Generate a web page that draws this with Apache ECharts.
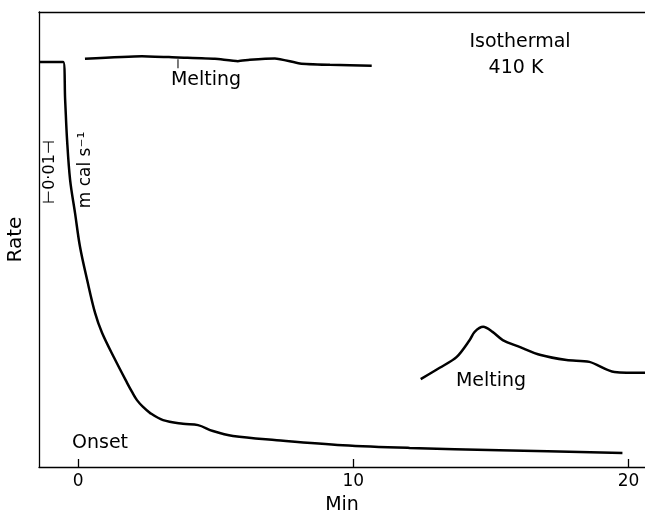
<!DOCTYPE html>
<html>
<head>
<meta charset="utf-8">
<script src="https://cdn.jsdelivr.net/npm/echarts@6/dist/echarts.min.js"></script>
<style>
  html, body { margin: 0; padding: 0; background: #fff; }
  #chart { width: 645px; height: 514px; }
</style>
</head>
<body>
<div id="chart"></div>
<script>
// time in min, rate in arbitrary units (0-100 over the frame height)
var onsetTime = [-1.42, -0.54, -0.47, -0.40, -0.29, -0.11, 0.07, 0.33, 0.62, 0.87, 1.31, 1.78, 1.96, 2.14, 2.36, 2.61, 3.09, 3.81, 4.36, 4.90, 5.63, 7.22, 9.62, 12.05, 15.32, 19.78]
var onsetRate = [89.0, 89.0, 80.7, 71.9, 63.1, 55.8, 48.4, 41.1, 33.8, 29.5, 24.0, 18.5, 16.5, 14.7, 13.2, 11.9, 10.3, 9.5, 9.2, 7.9, 6.8, 5.9, 4.8, 4.2, 3.7, 3.1]
var topTime = [0.25, 2.32, 3.63, 4.97, 5.81, 6.24, 7.15, 8.06, 9.15, 10.67]
var topRate = [89.7, 90.3, 90.0, 89.7, 89.2, 89.5, 89.8, 88.7, 88.4, 88.2]
var meltTime = [12.45, 13.14, 13.76, 14.23, 14.41, 14.72, 15.06, 15.43, 16.04, 16.81, 17.75, 18.58, 19.49, 20.6]
var meltRate = [19.3, 21.8, 24.2, 27.9, 29.7, 30.8, 29.7, 27.9, 26.4, 24.6, 23.5, 23.1, 20.9, 20.7]
var markTime = [3.63]
var markRate = [88.6]
var xTicks = [0, 10, 20]

function pairs(xs, ys) {
    return xs.map(function (x, i) { return [x, ys[i]] })
}

var font = 'DejaVu Sans'
var lineStyle = { color: '#000', width: 2.5 }

function note(x, y, text, size, rot) {
    return {
        type: 'text', x: x, y: y, rotation: rot || 0,
        style: { text: text, font: size + 'px ' + font, fill: '#000', align: 'center', verticalAlign: 'middle' }
    }
}

var option = {
    backgroundColor: '#fff',
    animation: false,
    grid: { left: 39, top: 12, right: 0, bottom: 47, outerBoundsMode: 'none' },
    xAxis: [{
        type: 'value',
        min: -1.42,
        max: 20.6,
        name: 'Min',
        nameLocation: 'middle',
        nameGap: 29,
        nameTextStyle: { color: '#000', fontSize: 19, fontFamily: font },
        splitLine: { show: false },
        axisLine: { show: true, onZero: false, lineStyle: { color: '#000', width: 1.3 } },
        axisTick: { show: true, inside: true, length: 8, customValues: xTicks, lineStyle: { color: '#000', width: 1.3 } },
        axisLabel: { customValues: xTicks, color: '#000', fontSize: 17, fontFamily: font, margin: 6 }
    }, {
        type: 'value',
        position: 'top',
        min: -1.42,
        max: 20.6,
        splitLine: { show: false },
        axisLine: { show: true, onZero: false, lineStyle: { color: '#000', width: 1.3 } },
        axisTick: { show: false },
        axisLabel: { show: false }
    }],
    yAxis: {
        type: 'value',
        min: 0,
        max: 100,
        name: 'Rate',
        nameLocation: 'middle',
        nameGap: 13,
        nameTextStyle: { color: '#000', fontSize: 20, fontFamily: font },
        splitLine: { show: false },
        axisLine: { show: true, onZero: false, lineStyle: { color: '#000', width: 1.3 } },
        axisTick: { show: false },
        axisLabel: { show: false }
    },
    series: [{
        type: 'line',
        data: pairs(onsetTime, onsetRate),
        smooth: 0.35,
        symbol: 'none',
        lineStyle: lineStyle
    }, {
        type: 'line',
        data: pairs(topTime, topRate),
        smooth: 0.2,
        symbol: 'none',
        lineStyle: lineStyle
    }, {
        type: 'line',
        data: pairs(meltTime, meltRate),
        smooth: 0.3,
        symbol: 'none',
        lineStyle: lineStyle
    }, {
        type: 'scatter',
        data: pairs(markTime, markRate),
        symbol: 'rect',
        symbolSize: [1.3, 9],
        itemStyle: { color: '#000' }
    }],
    graphic: [
        note(206, 80, 'Melting', 19),
        note(520, 42, 'Isothermal', 19),
        note(516, 68, '410 K', 19),
        note(491, 381, 'Melting', 19),
        note(100, 443, 'Onset', 19),
        note(86, 170, 'm cal s\u207B\u00B9', 17, Math.PI / 2),
        note(50, 172, '\u22A20\u00B701\u22A3', 16, Math.PI / 2)
    ]
}

var chart = echarts.init(document.getElementById('chart'))
chart.setOption(option)
</script>
</body>
</html>
